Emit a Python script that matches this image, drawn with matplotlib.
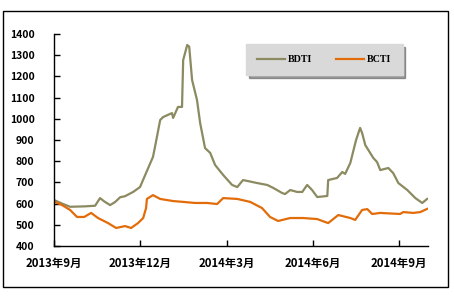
import matplotlib
matplotlib.use("Agg")
import matplotlib.pyplot as plt
from matplotlib.patches import Rectangle

# ─── Data (x = months since Sep 2013) ─────────────────────────────────────────
bdti_x = [0, 0.28, 0.56, 1.08, 1.43, 1.60, 1.75, 1.95, 2.12, 2.30, 2.47, 2.75,
          2.99, 3.17, 3.44, 3.51, 3.69, 3.79, 4.10, 4.14, 4.31, 4.45, 4.49, 4.63,
          4.70, 4.80, 4.97, 5.08, 5.25, 5.43, 5.60, 5.88, 6.19, 6.37, 6.57, 6.75,
          7.06, 7.41, 7.62, 7.93, 8.03, 8.21, 8.45, 8.63, 8.80, 8.97, 9.15, 9.50,
          9.53, 9.84, 10.02, 10.12, 10.30, 10.50, 10.64, 10.71, 10.82, 11.10,
          11.23, 11.34, 11.62, 11.79, 11.97, 12.28, 12.56, 12.80, 12.97]
bdti = [617, 600, 585, 587, 590, 626, 610, 593, 607, 630, 635, 655,
        678, 735, 820, 867, 994, 1008, 1027, 1004, 1056, 1056, 1277, 1348,
        1340, 1183, 1089, 980, 862, 839, 782, 735, 688, 678, 711, 706,
        697, 688, 674, 650, 645, 664, 655, 655, 688, 664, 631, 636,
        711, 721, 749, 740, 792, 900, 957, 933, 876, 815,
        796, 758, 768, 744, 697, 664, 626, 603, 622]

bcti_x = [0, 0.28, 0.56, 0.80, 1.05, 1.29, 1.53, 1.88, 2.16, 2.47, 2.68, 2.92,
          3.10, 3.20, 3.23, 3.44, 3.69, 4.14, 4.49, 4.90, 5.32, 5.67, 5.88, 6.37,
          6.82, 7.23, 7.51, 7.79, 8.21, 8.66, 9.15, 9.53, 9.88, 10.30, 10.47,
          10.71, 10.89, 11.06, 11.34, 12.03, 12.14, 12.49, 12.73, 12.97]
bcti = [610, 593, 570, 537, 537, 556, 532, 508, 485, 494, 485, 508,
        532, 579, 622, 640, 622, 612, 608, 603, 603, 598, 626, 622,
        608, 579, 537, 518, 532, 532, 527, 508, 546, 532, 523,
        570, 574, 551, 556, 551, 560, 556, 560, 575]

tick_pos = [0, 3, 6, 9, 12]
tick_labels = ["2013年9月", "2013年12月", "2014年3月", "2014年6月", "2014年9月"]
y_ticks = list(range(400, 1401, 100))

# ─── Plot ─────────────────────────────────────────────────────────────────────
plt.rcParams['font.family'] = ['Noto Sans CJK SC', 'DejaVu Sans']

fig = plt.figure(figsize=(4.54, 2.96), dpi=100)
ax = fig.add_axes([54 / 454, 1 - 246 / 296, 374 / 454, 212 / 296])

ax.plot(bdti_x, bdti, color="#8c8a60", lw=1.6, label="BDTI")
ax.plot(bcti_x, bcti, color="#e36c0a", lw=1.6, label="BCTI")

ax.set_xlim(0, 13.0)
ax.set_ylim(400, 1400)
ax.set_xticks(tick_pos)
ax.set_xticklabels(tick_labels, fontsize=8.2, fontweight="bold")
ax.set_yticks(y_ticks)
ax.set_yticklabels([str(v) for v in y_ticks], fontsize=7.5, fontweight="bold")
ax.tick_params(axis="both", direction="in", length=4, width=1)
ax.tick_params(axis="x", pad=8)
ax.tick_params(axis="y", pad=14)
for side in ("top", "right"):
    ax.spines[side].set_visible(False)
for side in ("left", "bottom"):
    ax.spines[side].set_linewidth(1)

leg = ax.legend(loc="upper left", bbox_to_anchor=(246 / 454, 1 - 44 / 296),
                bbox_transform=fig.transFigure, ncol=2, frameon=True,
                fancybox=False, shadow=True, facecolor="#d9d9d9",
                edgecolor="#d9d9d9", framealpha=1, handlelength=2.8,
                columnspacing=2.4, borderpad=1.1, handletextpad=0.3,
                borderaxespad=0,
                prop={"family": "Liberation Serif", "weight": "bold", "size": 7.2})

fig.patches.append(Rectangle((3 / 454, 1 - 287 / 296), 445 / 454, 276 / 296,
                             transform=fig.transFigure, fill=False,
                             edgecolor="black", lw=1))

fig.savefig("out.png", dpi=100)
